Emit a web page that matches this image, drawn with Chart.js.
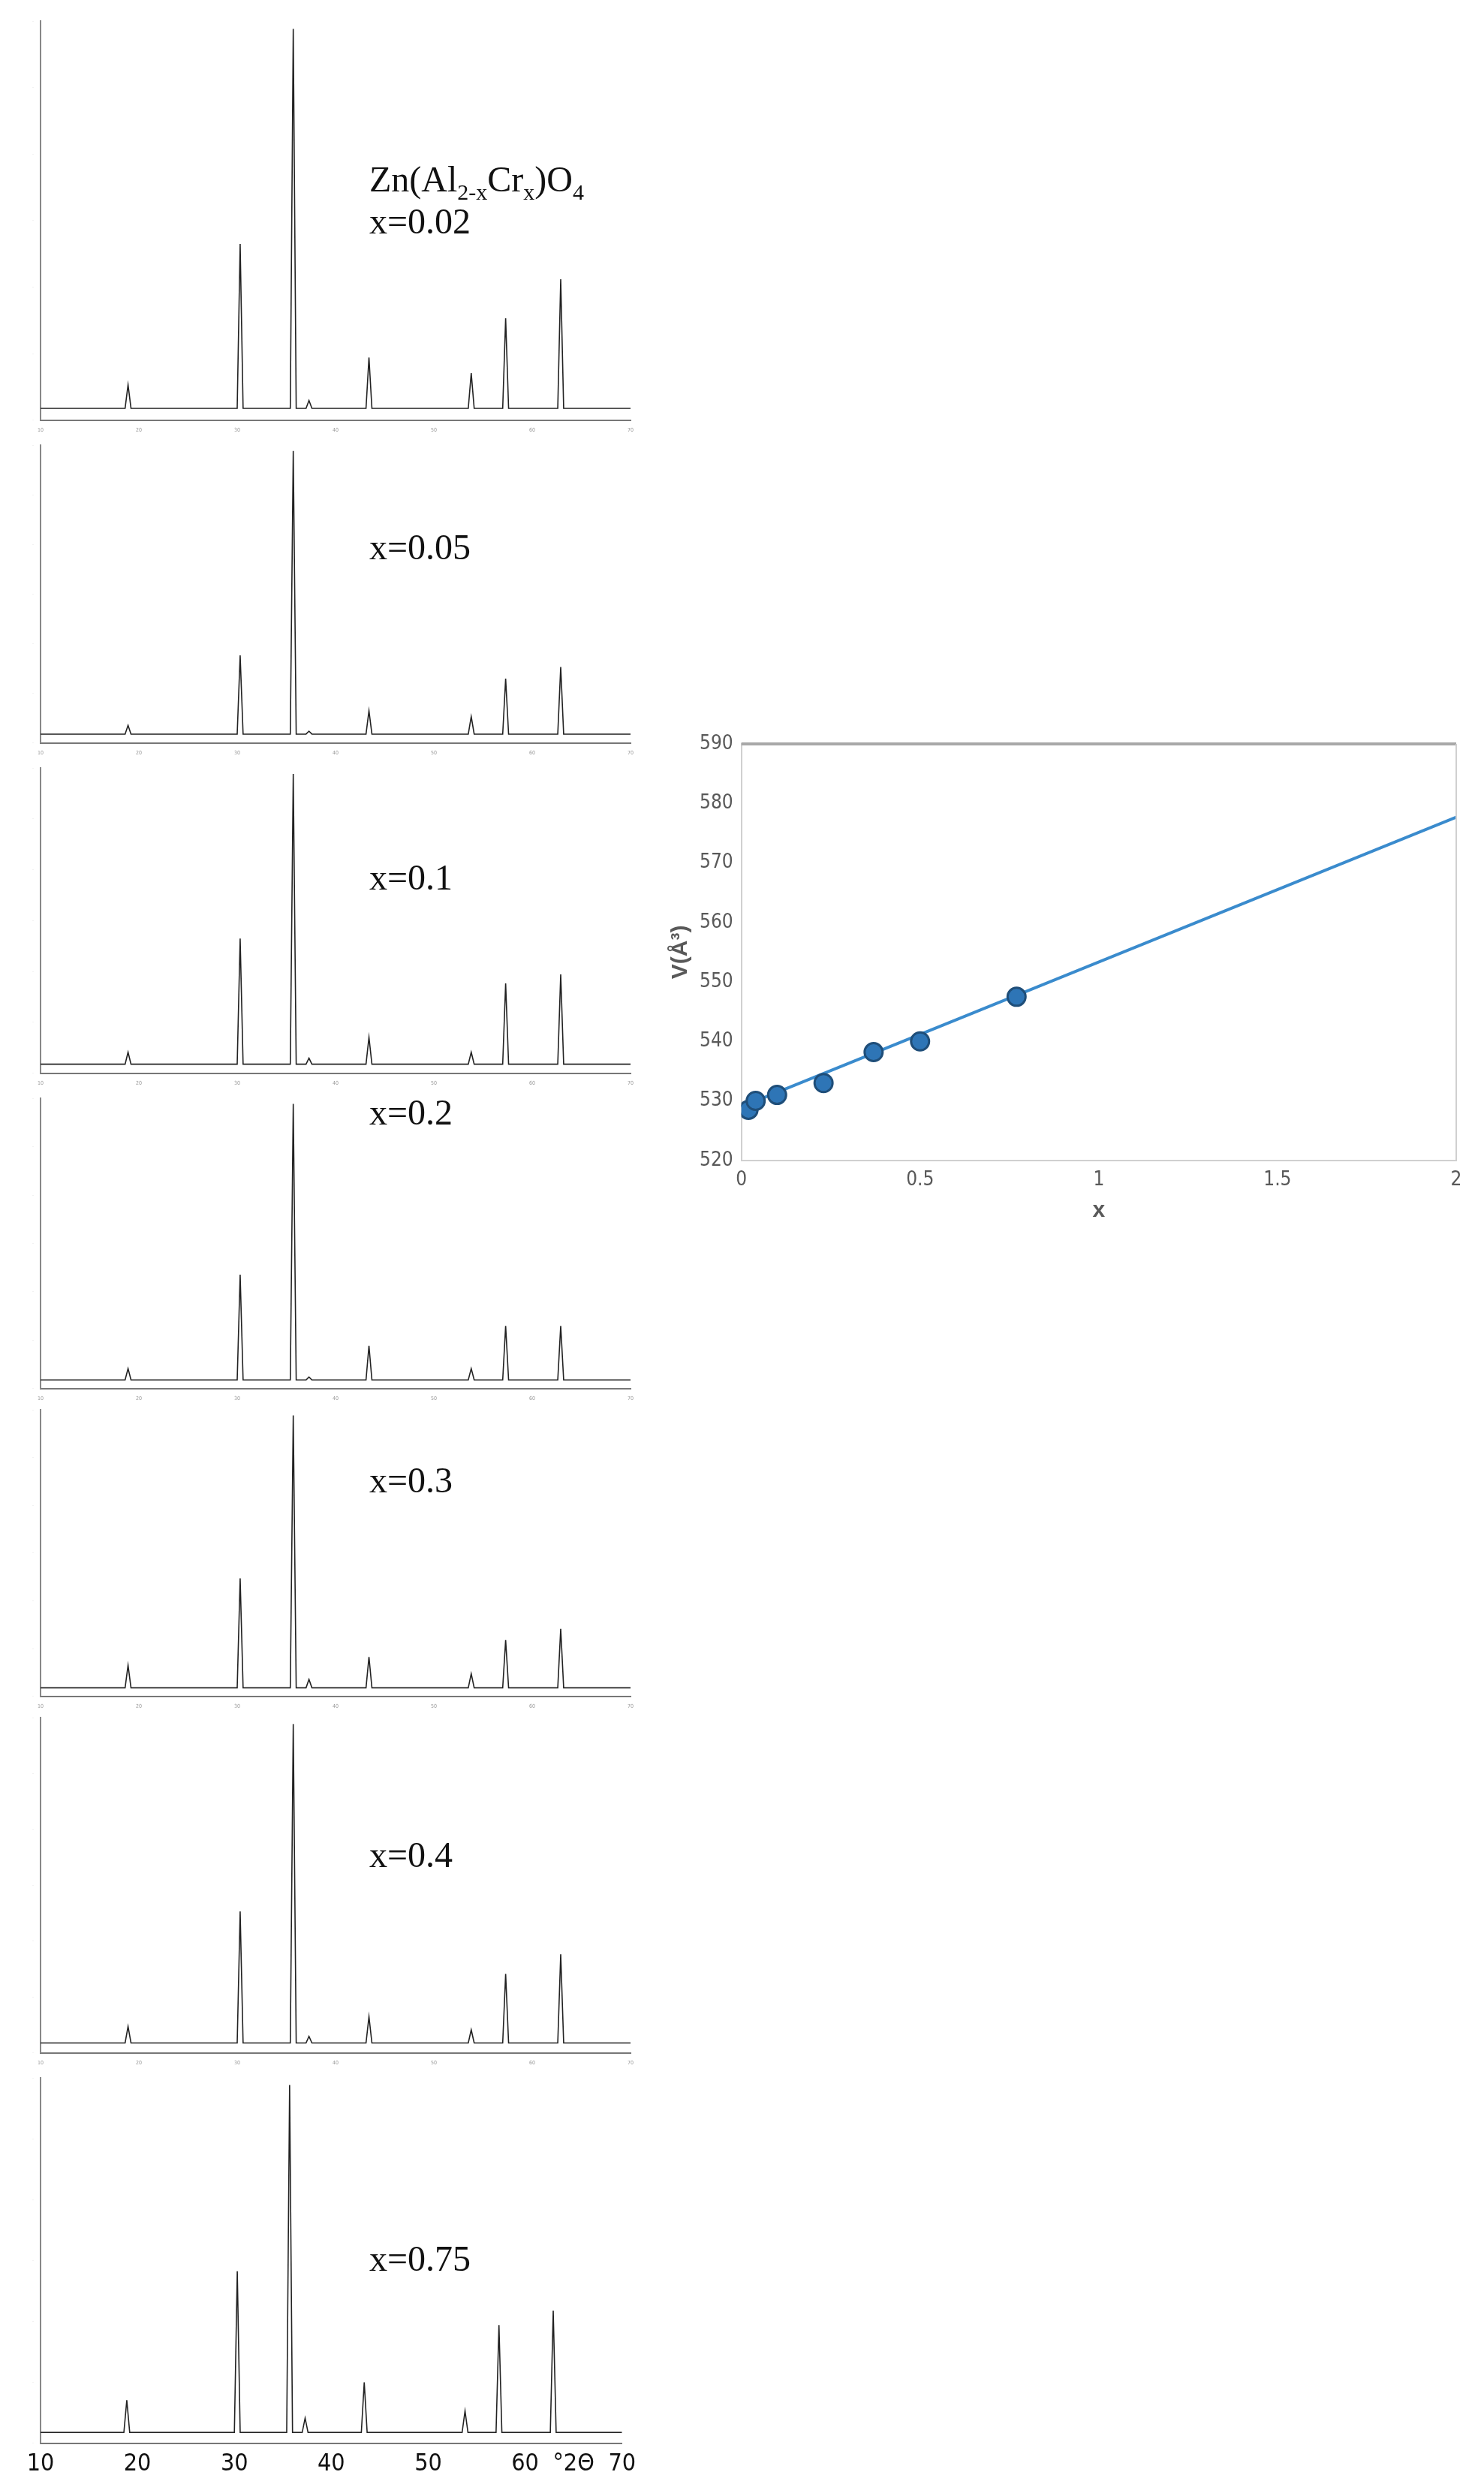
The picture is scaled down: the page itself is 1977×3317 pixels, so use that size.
<!DOCTYPE html>
<html><head><meta charset="utf-8">
<script src="https://cdn.jsdelivr.net/npm/chart.js@4.4.1/dist/chart.umd.min.js"></script>
<style>
body{margin:0;background:#fff;width:1977px;height:3317px;position:relative;overflow:hidden}
canvas{position:absolute}
.lab{position:absolute;font-family:"Liberation Serif","Times New Roman",serif;font-size:48px;color:#111;line-height:1}
.lab sub{font-size:30px}
</style></head><body>
<div id="wrap"></div>
<canvas id="vol" style="left:885px;top:955px;width:1085px;height:680px" width="1085" height="680"></canvas>
<script>
// 2theta positions of the spinel reflections
const peakPos=[18.9,30.3,35.7,37.3,43.4,53.8,57.3,62.9];
// relative heights (% of panel full scale), one row per sample
const compositions=['0.02','0.05','0.1','0.2','0.3','0.4','0.75'];
const h002=[9,45,100,5,16,12,26,36];
const h005=[6,30,100,4,11,9,22,26];
const h010=[7,45,100,5,12,7,30,33];
const h020=[7,40,100,4,15,7,22,22];
const h030=[11,42,100,6,14,8,20,24];
const h040=[8,43,100,5,11,7,24,30];
const h075=[12,48,100,7,17,9,33,37];
const heights=[h002,h005,h010,h020,h030,h040,h075];
const baseline=3;
// cell volume vs x
const volX=[0.02,0.04,0.1,0.23,0.37,0.5,0.77];
const volV=[528.5,530,531,533,538.2,540,547.5];
const fitX=[0,2];
const fitV=[529,577.7];

// panel placement (top, height) in px
const panels=[[20,560],[585,425],[1015,435],[1455,415],[1870,410],[2280,475],[2760,545]];
const labTop=[215,705,1145,1458,1948,2447,2985];

const wrap=document.getElementById('wrap');
panels.forEach((p,i)=>{
  const last=i===panels.length-1;
  const c=document.createElement('canvas');
  c.width=850;c.height=p[1];
  c.style.cssText=`left:0;top:${p[0]}px;width:850px;height:${p[1]}px`;
  wrap.appendChild(c);
  const pts=[{x:10,y:baseline}];
  peakPos.forEach((pp,k)=>{pts.push({x:pp-0.3,y:baseline},{x:pp,y:heights[i][k]},{x:pp+0.3,y:baseline});});
  pts.push({x:70,y:baseline});
  new Chart(c,{type:'scatter',data:{datasets:[{data:pts,showLine:true,borderColor:'#222',borderWidth:1.6,pointRadius:0,tension:0}]},
    options:{responsive:false,animation:false,plugins:{legend:{display:false},tooltip:{enabled:false}},
      layout:{padding:{top:8,right:last?14:10,bottom:0,left:0}},
      scales:{
        x:{type:'linear',min:10,max:70,grid:{display:false,drawTicks:true,tickLength:6},border:{color:'#777',width:2},
          ticks:{stepSize:5,autoSkip:false,maxRotation:0,color:last?'#111':'#999',font:{family:'DejaVu Sans Condensed',size:last?32:7},
            callback:v=>last?(v%10===0?String(v):(v===65?'°2Θ':'')):(v%10===0?String(v):'')}},
        y:{min:0,max:102,grid:{display:false,tickLength:6},border:{color:'#888',width:2,dash:[3,3]},afterFit:s=>{s.width=54;},
          ticks:{stepSize:17,color:'#aaa',font:{size:6},callback:()=>'·'}}
      }}});
  const l=document.createElement('div');l.className='lab';l.style.left='492px';l.style.top=labTop[i]+'px';
  l.innerHTML=(i===0?'Zn(Al<sub>2-x</sub>Cr<sub>x</sub>)O<sub>4</sub><br>':'')+'x='+compositions[i];
  wrap.appendChild(l);
});

new Chart(document.getElementById('vol'),{type:'scatter',
  data:{datasets:[
    {data:volX.map((x,i)=>({x,y:volV[i]})),pointRadius:12,pointBackgroundColor:'#2E75B6',pointBorderColor:'#1F4E79',pointBorderWidth:3,showLine:false,order:0},
    {data:fitX.map((x,i)=>({x,y:fitV[i]})),showLine:true,pointRadius:0,borderColor:'#3A8BCD',borderWidth:4,order:1}
  ]},
  options:{responsive:false,animation:false,plugins:{legend:{display:false},tooltip:{enabled:false}},
    layout:{padding:{top:36,right:30}},
    scales:{
      x:{type:'linear',min:0,max:2,grid:{display:false},border:{color:'#d0d0d0',width:2},
        ticks:{stepSize:0.5,color:'#595959',font:{family:'Liberation Sans Narrow, DejaVu Sans Condensed',size:26},callback:v=>String(v)},
        title:{display:true,text:'x',color:'#595959',font:{family:'Liberation Sans',size:30,weight:'bold'}}},
      y:{min:520,max:590,grid:{display:false},border:{color:'#d0d0d0',width:2},
        ticks:{stepSize:10,color:'#595959',font:{family:'Liberation Sans Narrow, DejaVu Sans Condensed',size:26}},
        title:{display:true,text:'V(Å³)',color:'#595959',font:{family:'Liberation Sans',size:30,weight:'bold'}}}
    }},
  plugins:[{id:'frame',afterDraw(ch){const a=ch.chartArea,g=ch.ctx;g.save();g.strokeStyle='#a8a8a8';g.lineWidth=4;g.beginPath();g.moveTo(a.left,a.top);g.lineTo(a.right,a.top);g.stroke();g.strokeStyle='#d0d0d0';g.lineWidth=2;g.beginPath();g.moveTo(a.right,a.top);g.lineTo(a.right,a.bottom);g.stroke();g.restore();}}]
});
</script>
</body></html>
